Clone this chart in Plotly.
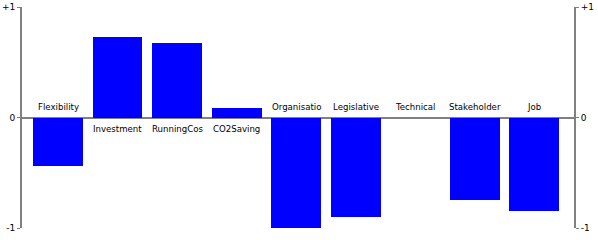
import plotly.graph_objects as go

categories = ["Flexibility", "Investment", "RunningCost", "CO2Saving", "Organisational",
              "Legislative", "Technical", "Stakeholder", "Job"]
labels = ["Flexibility", "Investment", "RunningCos", "CO2Saving", "Organisatio",
          "Legislative", "Technical", "Stakeholder", "Job"]
values = [-0.44, 0.73, 0.67, 0.09, -1.0, -0.9, 0.0, -0.75, -0.85]
tick_vals = [-1, 0, 1]
tick_text = ["-1", "0", "+1"]

x = list(range(len(categories)))

fig = go.Figure()
fig.add_trace(go.Bar(x=x, y=values, width=0.84,
                     marker=dict(color="#0000ff", line=dict(width=0)),
                     showlegend=False, hoverinfo="skip"))
# invisible trace for right axis
fig.add_trace(go.Scatter(x=[x[0]], y=[0], yaxis="y2", mode="markers",
                         marker=dict(opacity=0), showlegend=False, hoverinfo="skip"))

for i, (lab, v) in enumerate(zip(labels, values)):
    fig.add_annotation(x=i, y=0, text=lab, showarrow=False,
                       yshift=(-11 if v > 0 else 11),
                       font=dict(family="DejaVu Sans", size=8.6, color="#000000"))

axis_common = dict(range=[-1, 1], tickvals=tick_vals, ticktext=tick_text,
                   showline=True, linecolor="#808080", linewidth=2,
                   ticks="outside", ticklen=3, tickcolor="#808080",
                   showgrid=False, tickfont=dict(family="DejaVu Sans", size=9, color="#000"),
                   fixedrange=True, automargin=False)

fig.update_layout(
    width=598, height=240,
    margin=dict(l=22, r=24, t=7, b=12, autoexpand=False),
    paper_bgcolor="white", plot_bgcolor="white",
    bargap=0,
    xaxis=dict(range=[-0.605, 8.672], visible=False, fixedrange=True, automargin=False),
    yaxis=dict(**axis_common, zeroline=True, zerolinecolor="#808080", zerolinewidth=1.5,
               side="left"),
    yaxis2=dict(**axis_common, overlaying="y", side="right", zeroline=False),
)

fig.write_html("out.html", config={"displayModeBar": False},
               post_script="document.body.style.margin='0';document.body.style.overflow='hidden';")
